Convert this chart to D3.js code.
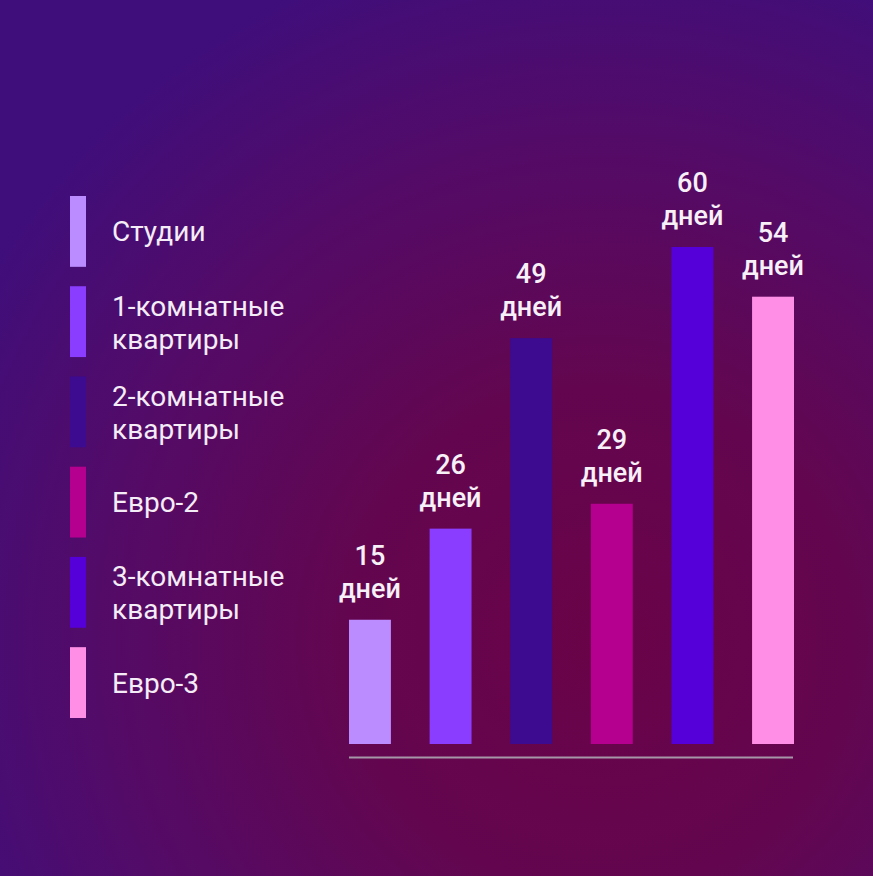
<!DOCTYPE html>
<html><head><meta charset="utf-8">
<script src="https://cdn.jsdelivr.net/npm/d3@7"></script>
<style>html,body{margin:0;padding:0;background:#4a0c72;overflow:hidden}</style>
</head><body>
<svg id="c" width="873" height="876"></svg>
<script>
const categories = ["Студии", "1-комнатные квартиры", "2-комнатные квартиры", "Евро-2", "3-комнатные квартиры", "Евро-3"];
const legendLines = [["Студии"], ["1-комнатные", "квартиры"], ["2-комнатные", "квартиры"], ["Евро-2"], ["3-комнатные", "квартиры"], ["Евро-3"]];
const values = [15, 26, 49, 29, 60, 54];
const unit = "дней";
const colors = ["#bb8cff", "#8b3dff", "#3d0b90", "#b5008f", "#5600d9", "#ff8fe6"];

const svg = d3.select("#c");
const W = 873, H = 876;
const defs = svg.append("defs");
const g = defs.append("radialGradient").attr("id", "bg")
  .attr("gradientUnits", "userSpaceOnUse")
  .attr("cx", 600).attr("cy", 640).attr("r", 720);
g.append("stop").attr("offset", "0").attr("stop-color", "#6a0348");
g.append("stop").attr("offset", "0.35").attr("stop-color", "#63064f");
g.append("stop").attr("offset", "0.7").attr("stop-color", "#530b68");
g.append("stop").attr("offset", "1").attr("stop-color", "#3f0e7b");
svg.append("rect").attr("width", W).attr("height", H).attr("fill", "url(#bg)");

const x = d3.scaleBand().domain(categories).range([349, 794]).paddingInner(0.48).paddingOuter(0);
const y = d3.scaleLinear().domain([0, 60]).range([744, 247]);

svg.selectAll("rect.bar").data(values).join("rect").attr("class", "bar")
  .attr("x", (d, i) => x(categories[i]))
  .attr("width", x.bandwidth())
  .attr("y", d => y(d))
  .attr("height", d => y(0) - y(d))
  .attr("fill", (d, i) => colors[i]);

svg.append("line").attr("x1", 349).attr("x2", 793).attr("y1", 757.5).attr("y2", 757.5)
  .attr("stroke", "#a596a8").attr("stroke-width", 2);

const lab = svg.selectAll("g.lab").data(values).join("g").attr("class", "lab")
  .attr("transform", (d, i) => `translate(${x(categories[i]) + x.bandwidth() / 2},${y(d)})`)
  .attr("font-family", "Roboto, sans-serif").attr("font-size", 27).attr("font-weight", 500)
  .attr("fill", "#f8f0f8").attr("text-anchor", "middle");
lab.append("text").attr("y", -55).text(d => d);
lab.append("text").attr("y", -22).text(unit);

// legend
const ly = d3.scaleBand().domain(categories).range([196, 718]).paddingInner(0.215);
const leg = svg.selectAll("g.leg").data(categories).join("g").attr("class", "leg")
  .attr("transform", d => `translate(70,${ly(d)})`);
leg.append("rect").attr("width", 16).attr("height", ly.bandwidth()).attr("fill", (d, i) => colors[i]);
leg.each(function (d, i) {
  const lines = legendLines[i];
  const c = ly.bandwidth() / 2;
  const t = d3.select(this).append("text").attr("x", 42)
    .attr("font-family", "Roboto, sans-serif").attr("font-size", 28)
    .attr("fill", "#f4ecf6");
  if (lines.length === 1) {
    t.append("tspan").attr("x", 42).attr("y", c + 10).text(lines[0]);
  } else {
    lines.forEach((l, k) => t.append("tspan").attr("x", 42).attr("y", c - 6 + k * 33).text(l));
  }
});
</script>
</body></html>
